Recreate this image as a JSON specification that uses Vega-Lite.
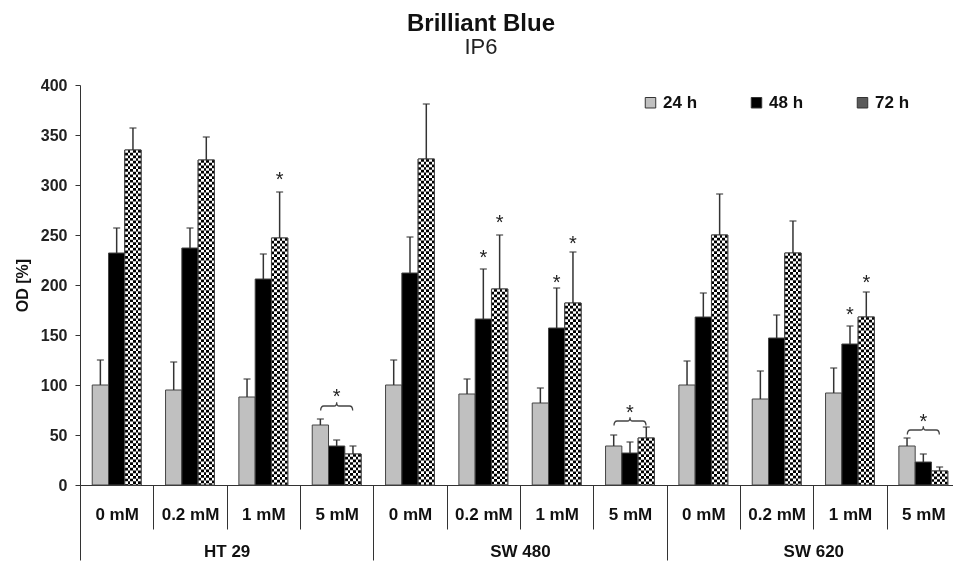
{
  "$schema": "https://vega.github.io/schema/vega-lite/v6.json",
  "width": 880,
  "height": 400,
  "autosize": {"type": "none"},
  "padding": {"left": 80, "top": 85, "right": 0, "bottom": 76},
  "background": "white",
  "config": {"font": "Liberation Sans", "view": {"stroke": null}},
  "title": {
    "text": "Brilliant Blue",
    "subtitle": "IP6",
    "fontSize": 24,
    "fontWeight": "bold",
    "color": "#111",
    "subtitleFontSize": 22,
    "subtitleColor": "#222",
    "subtitleFont": "Liberation Sans",
    "subtitlePadding": 1,
    "anchor": "middle",
    "frame": "group",
    "dx": -39,
    "offset": 19
  },
  "datasets": {
    "bars": [
      {"group": "HT 29|0 mM", "time": "24 h", "value": 100, "upper": 125},
      {"group": "HT 29|0 mM", "time": "48 h", "value": 232, "upper": 257},
      {"group": "HT 29|0 mM", "time": "72 h", "value": 335, "upper": 357},
      {"group": "HT 29|0.2 mM", "time": "24 h", "value": 95, "upper": 123},
      {"group": "HT 29|0.2 mM", "time": "48 h", "value": 237, "upper": 257},
      {"group": "HT 29|0.2 mM", "time": "72 h", "value": 325, "upper": 348},
      {"group": "HT 29|1 mM", "time": "24 h", "value": 88, "upper": 106},
      {"group": "HT 29|1 mM", "time": "48 h", "value": 206, "upper": 231},
      {"group": "HT 29|1 mM", "time": "72 h", "value": 247, "upper": 293},
      {"group": "HT 29|5 mM", "time": "24 h", "value": 60, "upper": 66},
      {"group": "HT 29|5 mM", "time": "48 h", "value": 39, "upper": 45},
      {"group": "HT 29|5 mM", "time": "72 h", "value": 31, "upper": 39},
      {"group": "SW 480|0 mM", "time": "24 h", "value": 100, "upper": 125},
      {"group": "SW 480|0 mM", "time": "48 h", "value": 212, "upper": 248},
      {"group": "SW 480|0 mM", "time": "72 h", "value": 326, "upper": 381},
      {"group": "SW 480|0.2 mM", "time": "24 h", "value": 91, "upper": 106},
      {"group": "SW 480|0.2 mM", "time": "48 h", "value": 166, "upper": 216},
      {"group": "SW 480|0.2 mM", "time": "72 h", "value": 196, "upper": 250},
      {"group": "SW 480|1 mM", "time": "24 h", "value": 82, "upper": 97},
      {"group": "SW 480|1 mM", "time": "48 h", "value": 157, "upper": 197},
      {"group": "SW 480|1 mM", "time": "72 h", "value": 182, "upper": 233},
      {"group": "SW 480|5 mM", "time": "24 h", "value": 39, "upper": 50},
      {"group": "SW 480|5 mM", "time": "48 h", "value": 32, "upper": 43},
      {"group": "SW 480|5 mM", "time": "72 h", "value": 47, "upper": 58},
      {"group": "SW 620|0 mM", "time": "24 h", "value": 100, "upper": 124},
      {"group": "SW 620|0 mM", "time": "48 h", "value": 168, "upper": 192},
      {"group": "SW 620|0 mM", "time": "72 h", "value": 250, "upper": 291},
      {"group": "SW 620|0.2 mM", "time": "24 h", "value": 86, "upper": 114},
      {"group": "SW 620|0.2 mM", "time": "48 h", "value": 147, "upper": 170},
      {"group": "SW 620|0.2 mM", "time": "72 h", "value": 232, "upper": 264},
      {"group": "SW 620|1 mM", "time": "24 h", "value": 92, "upper": 117},
      {"group": "SW 620|1 mM", "time": "48 h", "value": 141, "upper": 159},
      {"group": "SW 620|1 mM", "time": "72 h", "value": 168, "upper": 193},
      {"group": "SW 620|5 mM", "time": "24 h", "value": 39, "upper": 47},
      {"group": "SW 620|5 mM", "time": "48 h", "value": 23, "upper": 31},
      {"group": "SW 620|5 mM", "time": "72 h", "value": 14, "upper": 18}
    ],
    "stars": [
      {"group": "HT 29|1 mM", "time": "72 h", "y": 308},
      {"group": "SW 480|0.2 mM", "time": "48 h", "y": 230},
      {"group": "SW 480|0.2 mM", "time": "72 h", "y": 265},
      {"group": "SW 480|1 mM", "time": "48 h", "y": 205},
      {"group": "SW 480|1 mM", "time": "72 h", "y": 244},
      {"group": "SW 620|1 mM", "time": "48 h", "y": 173},
      {"group": "SW 620|1 mM", "time": "72 h", "y": 205}
    ],
    "groupstars": [
      {"group": "HT 29|5 mM", "star": 92, "brace": 79},
      {"group": "SW 480|5 mM", "star": 76, "brace": 64},
      {"group": "SW 620|5 mM", "star": 67, "brace": 55}
    ],
    "cells": [
      {"cell": "HT 29"},
      {"cell": "SW 480"},
      {"cell": "SW 620"}
    ]
  },
  "layer": [
    {
      "data": {"name": "bars"},
      "encoding": {
        "x": {
          "field": "group",
          "type": "nominal",
          "scale": {
            "domain": ["HT 29|0 mM", "HT 29|0.2 mM", "HT 29|1 mM", "HT 29|5 mM", "SW 480|0 mM", "SW 480|0.2 mM", "SW 480|1 mM", "SW 480|5 mM", "SW 620|0 mM", "SW 620|0.2 mM", "SW 620|1 mM", "SW 620|5 mM"],
            "paddingInner": 0,
            "paddingOuter": 0
          },
          "axis": {
            "title": null,
            "orient": "bottom",
            "labelExpr": "split(datum.label, '|')[1]",
            "tickBand": "extent",
            "tickSize": 44,
            "tickColor": "#333",
            "domainColor": "#333",
            "labelPadding": -23,
            "labelFontSize": 17,
            "labelFontWeight": "bold",
            "labelColor": "#111",
            "labelAngle": 0,
            "labelOverlap": false
          }
        },
        "y": {
          "field": "value",
          "type": "quantitative",
          "scale": {"domain": [0, 400], "nice": false},
          "axis": {
            "title": "OD [%]",
            "titleFontSize": 16,
            "titleFontWeight": "bold",
            "titleColor": "#111",
            "titlePadding": 10,
            "values": [0, 50, 100, 150, 200, 250, 300, 350, 400],
            "labelFontSize": 16,
            "labelFontWeight": "bold",
            "labelColor": "#222",
            "labelPadding": 8,
            "tickSize": 5,
            "tickColor": "#333",
            "domainColor": "#333",
            "grid": false
          }
        }
      },
      "layer": [
        {
          "mark": {"type": "bar", "stroke": "#444", "strokeWidth": 1},
          "encoding": {
            "xOffset": {"field": "time", "type": "nominal", "scale": {"domain": ["24 h", "48 h", "72 h"], "paddingInner": 0, "paddingOuter": 0.75}},
            "color": {
              "field": "time",
              "type": "nominal",
              "scale": {"domain": ["24 h", "48 h", "72 h"], "range": ["#c0c0c0", "#000000", "#5a5a5a"]},
              "legend": {
                "orient": "none",
                "legendX": 562,
                "legendY": 9,
                "direction": "horizontal",
                "title": null,
                "symbolType": "square",
                "symbolSize": 110,
                "symbolStrokeColor": "#333",
                "symbolStrokeWidth": 1,
                "labelFontSize": 17,
                "labelFontWeight": "bold",
                "labelColor": "#111",
                "columnPadding": 50,
                "labelOffset": 4
              }
            }
          }
        },
        {
          "transform": [{"filter": "datum.time === '72 h'"}],
          "mark": {
            "type": "bar",
            "strokeWidth": 0,
            "fill": {
              "gradient": "linear", "x1": 0, "y1": 0, "x2": 1, "y2": 0,
              "stops": [
                {"offset": 0, "color": "#000"}, {"offset": 0.1667, "color": "#000"},
                {"offset": 0.1667, "color": "#fff"}, {"offset": 0.3333, "color": "#fff"},
                {"offset": 0.3333, "color": "#000"}, {"offset": 0.5, "color": "#000"},
                {"offset": 0.5, "color": "#fff"}, {"offset": 0.6667, "color": "#fff"},
                {"offset": 0.6667, "color": "#000"}, {"offset": 0.8333, "color": "#000"},
                {"offset": 0.8333, "color": "#fff"}, {"offset": 1, "color": "#fff"}
              ]
            }
          },
          "encoding": {
            "xOffset": {"field": "time", "type": "nominal", "scale": {"domain": ["24 h", "48 h", "72 h"], "paddingInner": 0, "paddingOuter": 0.75}}
          }
        },
        {
          "transform": [{"filter": "datum.time === '72 h'"}],
          "mark": {"type": "rule", "color": "#fff", "strokeWidth": 16.3, "strokeDash": [2.716, 2.716], "blend": "difference"},
          "encoding": {
            "xOffset": {"field": "time", "type": "nominal", "scale": {"domain": ["24 h", "48 h", "72 h"], "paddingInner": 0, "paddingOuter": 0.75}},
            "y2": {"datum": 0}
          }
        },
        {
          "transform": [{"filter": "datum.time === '72 h'"}],
          "mark": {"type": "bar", "fillOpacity": 0, "stroke": "#444", "strokeWidth": 1},
          "encoding": {
            "xOffset": {"field": "time", "type": "nominal", "scale": {"domain": ["24 h", "48 h", "72 h"], "paddingInner": 0, "paddingOuter": 0.75}}
          }
        },
        {
          "mark": {"type": "rule", "color": "#333", "strokeWidth": 1.5},
          "encoding": {
            "xOffset": {"field": "time", "type": "nominal", "scale": {"domain": ["24 h", "48 h", "72 h"], "paddingInner": 0, "paddingOuter": 0.75}},
            "y2": {"field": "upper"}
          }
        },
        {
          "mark": {"type": "tick", "color": "#333", "size": 7, "thickness": 1.5, "orient": "horizontal"},
          "encoding": {
            "xOffset": {"field": "time", "type": "nominal", "scale": {"domain": ["24 h", "48 h", "72 h"], "paddingInner": 0, "paddingOuter": 0.75}},
            "y": {"field": "upper", "type": "quantitative"}
          }
        },
        {
          "data": {"name": "stars"},
          "mark": {"type": "text", "text": "*", "fontSize": 20, "color": "#222", "baseline": "alphabetic", "dy": 8.5},
          "encoding": {
            "xOffset": {"field": "time", "type": "nominal", "scale": {"domain": ["24 h", "48 h", "72 h"], "paddingInner": 0, "paddingOuter": 0.75}},
            "y": {"field": "y", "type": "quantitative"}
          }
        },
        {
          "data": {"name": "groupstars"},
          "mark": {"type": "text", "text": "*", "fontSize": 20, "color": "#222", "baseline": "alphabetic", "dy": 9.5},
          "encoding": {
            "y": {"field": "star", "type": "quantitative"}
          }
        },
        {
          "data": {"name": "groupstars"},
          "mark": {"type": "point", "shape": "M -1 0.28 Q -1 0 -0.8 0 L -0.16 0 Q 0 0 0 -0.24 Q 0 0 0.16 0 L 0.8 0 Q 1 0 1 0.28", "filled": false, "stroke": "#444", "strokeWidth": 1.3, "size": 1024, "opacity": 1},
          "encoding": {
            "y": {"field": "brace", "type": "quantitative"}
          }
        }
      ]
    },
    {
      "data": {"name": "cells"},
      "mark": {"type": "text", "text": ""},
      "encoding": {
        "x": {
          "field": "cell",
          "type": "nominal",
          "scale": {"domain": ["HT 29", "SW 480", "SW 620"], "paddingInner": 0, "paddingOuter": 0},
          "axis": {
            "title": null,
            "orient": "bottom",
            "domain": false,
            "tickBand": "extent",
            "tickSize": 75,
            "tickColor": "#333",
            "labelPadding": -17,
            "labelFontSize": 17,
            "labelFontWeight": "bold",
            "labelColor": "#111",
            "labelAngle": 0
          }
        }
      }
    }
  ],
  "resolve": {"scale": {"x": "independent"}, "axis": {"x": "independent"}}
}
